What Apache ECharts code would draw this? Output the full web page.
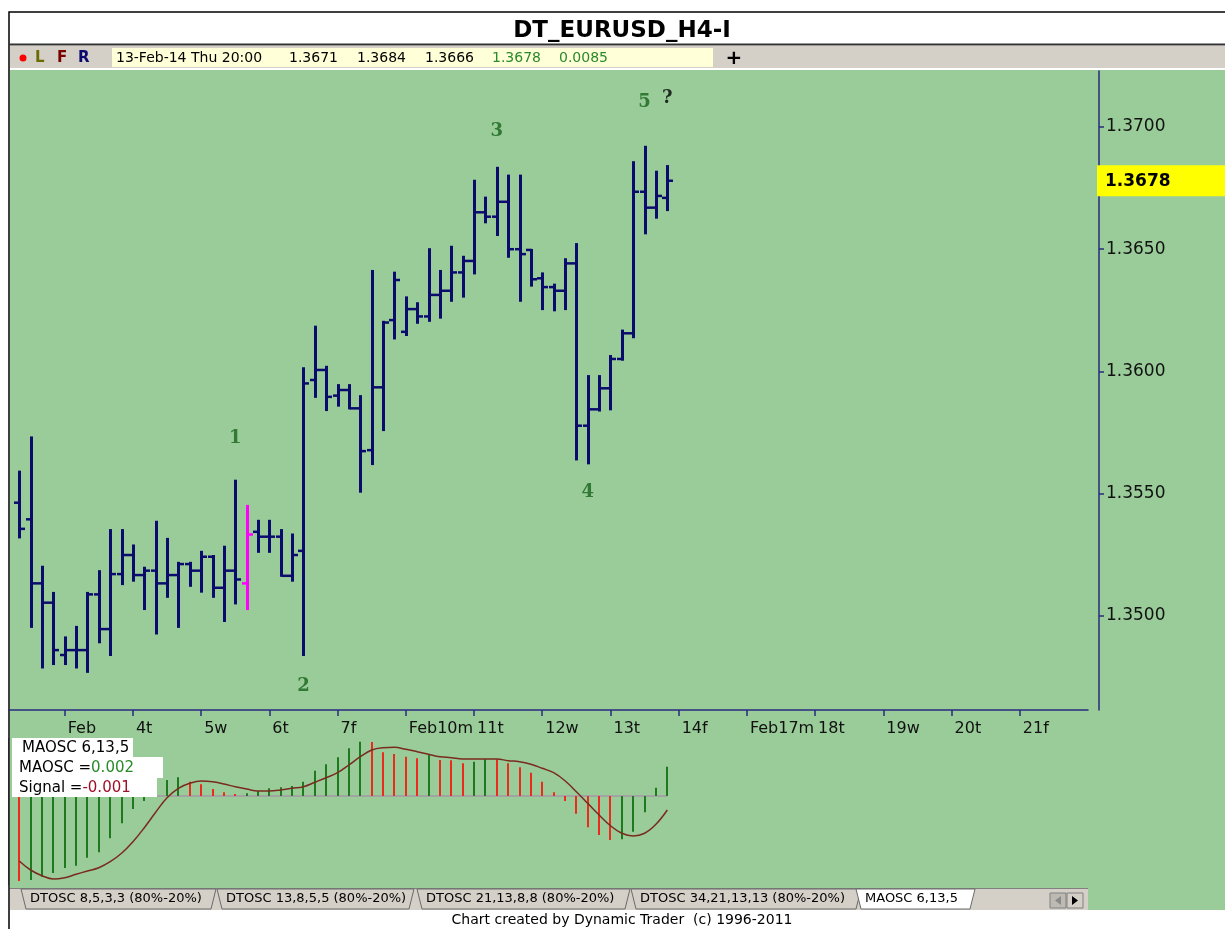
<!DOCTYPE html>
<html><head><meta charset="utf-8">
<script src="https://cdn.jsdelivr.net/npm/echarts@6/dist/echarts.min.js"></script>
<style>html,body{margin:0;padding:0;background:#fff}#c{width:1225px;height:929px}</style>
</head><body><div id="c"></div>
<script>
// ---------- DATA (H4 bars, 31-Jan-14 .. 13-Feb-14 20:00) ----------
const opens = [1.35463,1.35395,1.35133,1.35054,1.34840,1.34860,1.34860,1.35088,1.34946,1.35171,
1.35249,1.35167,1.35185,1.35133,1.35167,1.35212,1.35185,1.35242,1.35115,1.35185,
1.35133,1.35344,1.35324,1.35324,1.35164,1.35266,1.35965,1.36006,1.35901,1.35924,
1.35849,1.35678,1.35935,1.36210,1.36162,1.36255,1.36225,1.36313,1.36330,1.36405,
1.36452,1.36651,1.36633,1.36694,1.36500,1.36497,1.36381,1.36345,1.36330,1.36442,
1.35778,1.35845,1.35931,1.36051,1.36156,1.36735,1.36670,1.3671];
const highs = [1.35590,1.35730,1.35201,1.35094,1.34912,1.34955,1.35094,1.35183,1.35351,1.35351,
1.35288,1.35197,1.35385,1.35315,1.35217,1.35217,1.35262,1.35245,1.35283,1.35553,
1.35450,1.35389,1.35389,1.35351,1.35333,1.36013,1.36183,1.36019,1.35944,1.35944,
1.35899,1.36411,1.36203,1.36404,1.36303,1.36279,1.36500,1.36411,1.36510,1.36469,
1.36780,1.36711,1.36833,1.36801,1.36801,1.36497,1.36401,1.36355,1.36459,1.36521,
1.35981,1.35981,1.36063,1.36167,1.36856,1.36919,1.36817,1.3684];
const lows = [1.35321,1.34955,1.34789,1.34803,1.34803,1.34789,1.34771,1.34892,1.34840,1.35130,
1.35144,1.35028,1.34928,1.35078,1.34955,1.35123,1.35099,1.35078,1.34979,1.35051,
1.35028,1.35262,1.35262,1.35164,1.35144,1.34840,1.35896,1.35842,1.35860,1.35849,
1.35508,1.35621,1.35760,1.36135,1.36149,1.36199,1.36207,1.36220,1.36289,1.36306,
1.36401,1.36610,1.36558,1.36469,1.36289,1.36351,1.36255,1.36250,1.36255,1.35640,
1.35624,1.35840,1.35845,1.36048,1.36140,1.36565,1.36629,1.3666];
const closes = [1.35356,1.35133,1.35054,1.34860,1.34860,1.34860,1.35088,1.34946,1.35171,1.35249,
1.35167,1.35185,1.35133,1.35167,1.35212,1.35185,1.35242,1.35115,1.35185,1.35149,
1.35333,1.35324,1.35324,1.35164,1.35249,1.35951,1.36006,1.35896,1.35924,1.35849,
1.35674,1.35935,1.36200,1.36374,1.36255,1.36225,1.36313,1.36330,1.36405,1.36452,
1.36651,1.36633,1.36694,1.36500,1.36480,1.36377,1.36345,1.36330,1.36442,1.35778,
1.35845,1.35931,1.36051,1.36156,1.36735,1.36670,1.36718,1.3678];

// MAOSC 6,13,5 histogram and signal line
const maosc = [-0.00595,-0.00588,-0.00565,-0.00539,-0.00504,-0.00488,-0.00432,-0.00394,-0.00296,-0.00191,
-0.00091,-0.00035,0.00021,0.00112,0.00131,0.00100,0.00082,0.00049,0.00026,0.00014,
0.00019,0.00035,0.00054,0.00061,0.00070,0.00100,0.00177,0.00222,0.00271,0.00334,
0.00380,0.00378,0.00306,0.00294,0.00275,0.00264,0.00292,0.00252,0.00250,0.00229,
0.00240,0.00257,0.00255,0.00229,0.00201,0.00163,0.00100,0.00026,-0.00035,-0.00124,
-0.00219,-0.00273,-0.00308,-0.00303,-0.00250,-0.00114,0.00058,0.00205];
const signal = [-0.00455,-0.00518,-0.00558,-0.00581,-0.00572,-0.00548,-0.00525,-0.00502,-0.00460,-0.00401,
-0.00320,-0.00222,-0.00114,-0.00012,0.00054,0.00089,0.00105,0.00100,0.00084,0.00065,
0.00049,0.00035,0.00035,0.00042,0.00054,0.00065,0.00096,0.00128,0.00163,0.00217,
0.00275,0.00322,0.00338,0.00341,0.00327,0.00310,0.00292,0.00275,0.00268,0.00259,
0.00259,0.00259,0.00259,0.00247,0.00240,0.00222,0.00194,0.00163,0.00107,0.00030,
-0.00051,-0.00133,-0.00208,-0.00261,-0.00280,-0.00261,-0.00198,-0.00098];

// axis ticks
const xTickIdx = [4,10,16,22,28,34,40,46,52,58,64,70,76,82,88];
const xTickLabels = ['Feb','4t','5w','6t','7f','Feb10m','11t','12w','13t','14f','Feb17m','18t','19w','20t','21f'];
const yTicks = [1.3500,1.3550,1.3600,1.3650,1.3700];

// Elliott wave annotations
const waveText = ['1','2','3','4','5','?'];
const waveIdx = [19,25,42,50,55,57];
const wavePrice = [1.35727,1.34713,1.36984,1.35507,1.37102,1.37119];

// header / footer texts
const chartTitle = 'DT_EURUSD_H4-I';
const infoDate = '13-Feb-14 Thu 20:00';
const infoChange = '0.0085';
const tabNames = ['DTOSC 8,5,3,3 (80%-20%)','DTOSC 13,8,5,5 (80%-20%)','DTOSC 21,13,8,8 (80%-20%)','DTOSC 34,21,13,13 (80%-20%)','MAOSC 6,13,5'];
const footerText = 'Chart created by Dynamic Trader  (c) 1996-2011';

// ---------- STYLE / LAYOUT ----------
const FONT = '"DejaVu Sans"';
const BAR_COLOR = '#0b0b6e';
const HILITE_COLOR = '#ff00ff';
const highlightBar = 20;
const UP_COL = '#1f7a1f', DN_COL = '#ec2a1e';
const tabX = [30, 226, 426, 640, 865];
const tabW = [178, 180, 196, 213, 102];

const N = opens.length;
const lastClose = closes[N - 1];
const ohlc = opens.map((o, i) => [i, o, highs[i], lows[i], closes[i]]);
const oscData = maosc.map((v, i) => [i, v, (i > 0 && v >= maosc[i - 1]) ? 1 : 0]);
const sigData = signal.map((v, i) => [i, v]);
const labelMap = {};
xTickIdx.forEach((v, i) => { labelMap[v] = xTickLabels[i]; });

function renderOHLC(params, api) {
  const i = api.value(0);
  const o = api.coord([i, api.value(1)]);
  const h = api.coord([i, api.value(2)]);
  const l = api.coord([i, api.value(3)]);
  const c = api.coord([i, api.value(4)]);
  const col = params.dataIndex === highlightBar ? HILITE_COLOR : BAR_COLOR;
  const x = Math.round(h[0]) + 0.5;
  const tw = 5.5;
  return {
    type: 'group',
    children: [
      { type: 'line', shape: { x1: x, y1: h[1] - 1, x2: x, y2: l[1] + 1 }, style: { stroke: col, lineWidth: 3 } },
      { type: 'line', shape: { x1: x - tw, y1: o[1], x2: x, y2: o[1] }, style: { stroke: col, lineWidth: 2.5 } },
      { type: 'line', shape: { x1: x, y1: c[1], x2: x + tw, y2: c[1] }, style: { stroke: col, lineWidth: 2.5 } }
    ]
  };
}
function renderHist(params, api) {
  const i = api.value(0);
  const z = api.coord([i, 0]);
  const t = api.coord([i, api.value(1)]);
  const x = Math.round(z[0]);
  return { type: 'line', shape: { x1: x, y1: z[1], x2: x, y2: t[1] },
    style: { stroke: api.value(2) ? UP_COL : DN_COL, lineWidth: 2 } };
}

const lastOsc = maosc[N - 1].toFixed(3);
const lastSig = signal[N - 1].toFixed(3);

const graphics = [
  // frame & backgrounds
  { type: 'rect', z: 0, shape: { x: 9, y: 12, width: 1220, height: 920 }, style: { fill: '#ffffff', stroke: '#000', lineWidth: 1.5 } },
  { type: 'rect', z: 0, shape: { x: 10, y: 70, width: 1215, height: 840 }, style: { fill: '#99cc99' } },
  { type: 'line', z: 0, shape: { x1: 9, y1: 44.5, x2: 1225, y2: 44.5 }, style: { stroke: '#333', lineWidth: 2 } },
  { type: 'text', z: 1, x: 622, y: 31, style: { text: chartTitle, fill: '#000', fontSize: 23, fontWeight: 'bold', fontFamily: FONT, align: 'center', verticalAlign: 'middle' } },
  // info bar
  { type: 'rect', z: 0, shape: { x: 10, y: 46, width: 1215, height: 22 }, style: { fill: '#d4d0c8' } },
  { type: 'rect', z: 0, shape: { x: 112, y: 48, width: 601, height: 19 }, style: { fill: '#ffffd8' } },
  { type: 'circle', z: 1, shape: { cx: 23, cy: 58, r: 3.5 }, style: { fill: '#ff0000' } },
  { type: 'text', z: 1, x: 35, y: 58, style: { text: 'L', fill: '#6b6b00', fontSize: 15, fontWeight: 'bold', fontFamily: FONT, verticalAlign: 'middle' } },
  { type: 'text', z: 1, x: 57, y: 58, style: { text: 'F', fill: '#7a0000', fontSize: 15, fontWeight: 'bold', fontFamily: FONT, verticalAlign: 'middle' } },
  { type: 'text', z: 1, x: 78, y: 58, style: { text: 'R', fill: '#0a0a6e', fontSize: 15, fontWeight: 'bold', fontFamily: FONT, verticalAlign: 'middle' } },
  { type: 'text', z: 1, x: 116, y: 58, style: { text: infoDate, fill: '#000', fontSize: 14, fontFamily: FONT, verticalAlign: 'middle' } },
  { type: 'text', z: 1, x: 289, y: 58, style: { text: opens[N - 1].toFixed(4), fill: '#000', fontSize: 14, fontFamily: FONT, verticalAlign: 'middle' } },
  { type: 'text', z: 1, x: 357, y: 58, style: { text: highs[N - 1].toFixed(4), fill: '#000', fontSize: 14, fontFamily: FONT, verticalAlign: 'middle' } },
  { type: 'text', z: 1, x: 425, y: 58, style: { text: lows[N - 1].toFixed(4), fill: '#000', fontSize: 14, fontFamily: FONT, verticalAlign: 'middle' } },
  { type: 'text', z: 1, x: 492, y: 58, style: { text: lastClose.toFixed(4), fill: '#2a8a2a', fontSize: 14, fontFamily: FONT, verticalAlign: 'middle' } },
  { type: 'text', z: 1, x: 559, y: 58, style: { text: infoChange, fill: '#2a8a2a', fontSize: 14, fontFamily: FONT, verticalAlign: 'middle' } },
  { type: 'text', z: 1, x: 734, y: 59, style: { text: '+', fill: '#000', fontSize: 20, fontWeight: 'bold', fontFamily: FONT, align: 'center', verticalAlign: 'middle' } },
  // oscillator legend box
  { type: 'rect', z: 50, shape: { x: 12, y: 738, width: 121, height: 19 }, style: { fill: '#fff' } },
  { type: 'rect', z: 50, shape: { x: 12, y: 757, width: 151, height: 21 }, style: { fill: '#fff' } },
  { type: 'rect', z: 50, shape: { x: 12, y: 778, width: 145, height: 19 }, style: { fill: '#fff' } },
  { type: 'text', z: 51, x: 22, y: 748, style: { text: 'MAOSC 6,13,5', fill: '#000', fontSize: 15, fontFamily: FONT, verticalAlign: 'middle' } },
  { type: 'text', z: 51, x: 19, y: 768, style: { text: '{a|MAOSC =}{g|' + lastOsc + '}', fontSize: 15, fontFamily: FONT, verticalAlign: 'middle',
      rich: { a: { fill: '#000', fontSize: 15, fontFamily: FONT }, g: { fill: '#2a8a2a', fontSize: 15, fontFamily: FONT } } } },
  { type: 'text', z: 51, x: 19, y: 788, style: { text: '{a|Signal =}{r|' + lastSig + '}', fontSize: 15, fontFamily: FONT, verticalAlign: 'middle',
      rich: { a: { fill: '#000', fontSize: 15, fontFamily: FONT }, r: { fill: '#a0102a', fontSize: 15, fontFamily: FONT } } } },
  // tab strip
  { type: 'rect', z: 0, shape: { x: 10, y: 888, width: 1078, height: 22 }, style: { fill: '#d4d0c8' } },
  { type: 'line', z: 1, shape: { x1: 10, y1: 888.5, x2: 1088, y2: 888.5 }, style: { stroke: '#808080', lineWidth: 1 } },
  { type: 'rect', z: 1, shape: { x: 1050, y: 893, width: 16, height: 15 }, style: { fill: '#bdbab2', stroke: '#808080' } },
  { type: 'rect', z: 1, shape: { x: 1067, y: 893, width: 16, height: 15 }, style: { fill: '#d4d0c8', stroke: '#808080' } },
  { type: 'polygon', z: 2, shape: { points: [[1061, 896], [1055, 900.5], [1061, 905]] }, style: { fill: '#8a8a8a' } },
  { type: 'polygon', z: 2, shape: { points: [[1072, 896], [1078, 900.5], [1072, 905]] }, style: { fill: '#000' } },
  { type: 'text', z: 1, x: 622, y: 920, style: { text: footerText, fill: '#000', fontSize: 14, fontFamily: FONT, align: 'center', verticalAlign: 'middle' } }
];
tabNames.forEach((name, k) => {
  const a = tabX[k], b = tabX[k] + tabW[k];
  const active = k === tabNames.length - 1;
  graphics.push({ type: 'polygon', z: 1, shape: { points: [[a - 9, 889], [a - 4, 909], [b + 3, 909], [b + 8, 889]] },
    style: { fill: active ? '#ffffff' : '#d4d0c8', stroke: '#6a6a6a', lineWidth: 1 } });
  graphics.push({ type: 'text', z: 2, x: a, y: 899, style: { text: name, fill: '#000', fontSize: 13, fontFamily: FONT, verticalAlign: 'middle' } });
});

const chart = echarts.init(document.getElementById('c'));
chart.setOption({
  animation: false,
  backgroundColor: '#ffffff',
  graphic: { elements: graphics },
  grid: [
    { left: 9, top: 71, width: 1079, height: 639, show: false, outerBoundsMode: 'none', containLabel: false },
    { left: 9, top: 738, width: 1079, height: 147, show: true, borderColor: '#3a3a3a', borderWidth: 1, backgroundColor: 'transparent', outerBoundsMode: 'none', containLabel: false }
  ],
  xAxis: [
    { type: 'value', gridIndex: 0, min: -0.9, max: 94,
      axisLine: { show: true, onZero: false, lineStyle: { color: '#2a2a80', width: 1.5 } },
      axisTick: { show: true, customValues: xTickIdx, length: 6, lineStyle: { color: '#2a2a80', width: 1.5 } },
      axisLabel: { customValues: xTickIdx, formatter: v => labelMap[v] || '', align: 'left', margin: 11,
        padding: [0, 0, 0, 3], fontSize: 16, fontFamily: FONT, color: '#111' },
      splitLine: { show: false } },
    { type: 'value', gridIndex: 1, min: -0.9, max: 94, show: false }
  ],
  yAxis: [
    { type: 'value', gridIndex: 0, position: 'right', offset: 11, min: 1.34615, max: 1.37229,
      axisLine: { show: true, onZero: false, lineStyle: { color: '#2a2a80', width: 1.5 } },
      axisTick: { show: true, customValues: yTicks, length: 5, lineStyle: { color: '#2a2a80', width: 1.5 } },
      axisLabel: { customValues: yTicks, formatter: v => v.toFixed(4), margin: 7, fontSize: 17, fontFamily: FONT, color: '#111' },
      splitLine: { show: false } },
    { type: 'value', gridIndex: 1, min: -0.00623, max: 0.00406, show: false },
    // last-price tag (same scale as the price axis)
    { type: 'value', gridIndex: 0, position: 'right', offset: 9, min: 1.34615, max: 1.37229,
      axisLine: { show: false, onZero: false }, axisTick: { show: false }, splitLine: { show: false },
      axisLabel: { customValues: [lastClose], formatter: v => '{p|' + v.toFixed(4) + '}', margin: 0,
        rich: { p: { backgroundColor: '#ffff00', color: '#000', fontWeight: 'bold', fontSize: 17, fontFamily: FONT,
          padding: [7, 6, 6, 8], width: 114, height: 18, lineHeight: 18, align: 'left' } } } }
  ],
  series: [
    { type: 'custom', name: 'EURUSD', xAxisIndex: 0, yAxisIndex: 0, data: ohlc,
      encode: { x: 0, y: [1, 2, 3, 4] }, renderItem: renderOHLC, silent: true, z: 3 },
    { type: 'scatter', name: 'waves', xAxisIndex: 0, yAxisIndex: 0, symbolSize: 0.1, silent: true, z: 4,
      itemStyle: { color: 'rgba(0,0,0,0)' },
      data: waveIdx.map((x, k) => ({ value: [x, wavePrice[k]], name: waveText[k],
        label: { color: waveText[k] === '?' ? '#000000' : '#16641a' } })),
      label: { show: true, position: 'inside', formatter: p => p.name, fontSize: 18, fontWeight: 'bold', fontFamily: '"DejaVu Serif"' } },
    { type: 'line', name: 'zero', xAxisIndex: 1, yAxisIndex: 1, data: [[0, 0], [N - 1, 0]], symbol: 'none', silent: true,
      lineStyle: { color: '#a3a3a3', width: 2 }, z: 2 },
    { type: 'custom', name: 'MAOSC', xAxisIndex: 1, yAxisIndex: 1, data: oscData,
      encode: { x: 0, y: 1 }, renderItem: renderHist, silent: true, z: 3 },
    { type: 'line', name: 'Signal', xAxisIndex: 1, yAxisIndex: 1, data: sigData, symbol: 'none', smooth: 0.4, silent: true,
      lineStyle: { color: '#7a2a1e', width: 1.5 }, z: 4 }
  ]
});
</script>
</body></html>
